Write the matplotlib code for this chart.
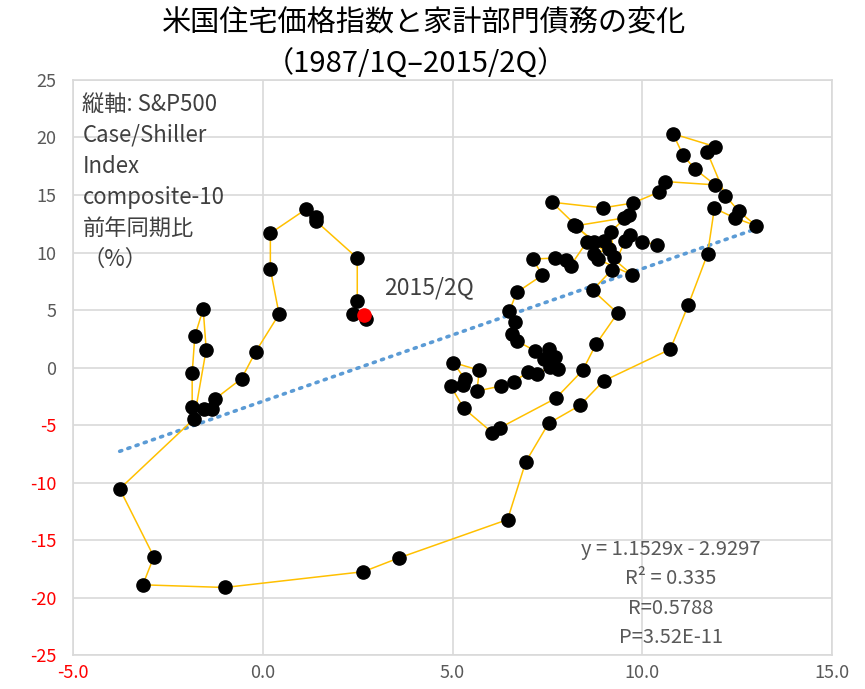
import matplotlib.pyplot as plt
import numpy as np

plt.rcParams['font.family'] = ['Noto Sans CJK JP', 'DejaVu Sans']

# x: 家計部門債務 前年同期比(%), y: Case/Shiller composite-10 前年同期比(%)
# 1987/1Q から 2015/2Q まで時系列順
debt = [10.40, 9.99, 9.68, 9.55, 9.20, 8.69, 9.35, 8.78, 8.43, 7.72, 6.25, 6.05,
        5.30, 4.95, 5.28, 5.33, 5.02, 5.71, 5.64, 6.28, 6.61, 7.00, 7.22, 7.58,
        7.79, 7.70, 7.53, 7.40, 7.18, 6.69, 6.56, 6.65, 6.50, 6.69, 7.37, 7.11,
        7.70, 7.99, 8.11,
        8.54, 8.74, 8.98, 9.11, 8.72, 8.82, 9.74, 8.20, 9.26, 9.17, 9.64, 9.51,
        8.26, 7.62, 8.96, 9.75, 10.43, 10.59, 11.92, 11.38, 11.07, 10.81, 11.92,
        11.71, 12.19, 12.54, 13.00, 12.44, 11.90, 11.72, 11.21, 10.74, 8.98,
        8.36, 7.53,
        6.93, 6.45, 3.58, 2.65, -1.00, -3.16, -2.87, -3.77, -1.81, -1.49, -1.57,
        -1.79, -1.86, -1.86, -1.56, -1.33, -1.27, -0.56, -0.19, 0.43, 0.20, 0.20,
        1.15, 1.39, 1.39, 2.49, 2.49, 2.38, 2.72, 2.67]
price = [10.68, 10.94, 11.52, 11.03, 8.50, 6.73, 4.73, 2.03, -0.24, -2.67, -5.23, -5.66,
         -3.55, -1.60, -1.54, -1.02, 0.44, -0.24, -2.04, -1.60, -1.25, -0.35, -0.58, 0.09,
         -0.09, 0.96, 1.60, 0.72, 1.45, 2.32, 2.90, 3.92, 4.93, 6.53, 8.04, 9.43,
         9.52, 9.35, 8.85,
         10.94, 10.94, 10.98, 10.30, 9.87, 9.43, 8.04, 12.40, 9.58, 11.81, 13.27, 13.00,
         12.33, 14.37, 13.88, 14.30, 15.24, 16.17, 15.88, 17.27, 18.49, 20.32, 19.20,
         18.73, 14.95, 13.59, 12.33, 13.00, 13.85, 9.87, 5.43, 1.60, -1.16,
         -3.28, -4.85,
         -8.19, -13.21, -16.55, -17.74, -19.11, -18.88, -16.44, -10.54, -4.45, 1.57, 5.08,
         2.75, -0.50, -3.43, -3.63, -3.57, -2.76, -0.96, 1.36, 4.64, 8.56, 11.67,
         13.79, 13.12, 12.77, 9.52, 5.75, 4.64, 4.21, 4.56]

# 近似直線 (Excel の線形近似)
slope, intercept = 1.1529, -2.9297
r2, r, p = 0.335, 0.5788, 3.52e-11

xticks = [-5, 0, 5, 10, 15]
yticks = [25, 20, 15, 10, 5, 0, -5, -10, -15, -20, -25]

fig = plt.figure(figsize=(8.65, 6.89), dpi=100)
ax = fig.add_axes([0.0844, 0.049, 0.8775, 0.835])

ax.plot(debt, price, color='#FFC000', lw=1.1, zorder=2)
ax.plot(debt[:-1], price[:-1], 'o', color='black', ms=9.5, zorder=3)
ax.plot(debt[-1], price[-1], 'o', color='red', ms=9.5, zorder=4)

tx = np.array([min(debt), max(debt)])
ax.plot(tx, slope * tx + intercept, color='#5B9BD5', lw=2.6,
        linestyle=(0, (0.6, 1.8)), dash_capstyle='round', zorder=1.5)

ax.set_xlim(-5, 15)
ax.set_ylim(-25, 25)
ax.set_xticks(xticks)
ax.set_yticks(yticks)
ax.set_xticklabels(['%.1f' % v for v in xticks])
ax.set_yticklabels([str(v) for v in yticks])
for lab, v in zip(ax.get_xticklabels(), xticks):
    lab.set_color('red' if v < 0 else '#595959')
for lab, v in zip(ax.get_yticklabels(), yticks):
    lab.set_color('red' if v < 0 else '#595959')
ax.tick_params(length=0, labelsize=13)
ax.tick_params(axis='y', pad=12)
ax.tick_params(axis='x', pad=6)
ax.grid(True, color='#D9D9D9', lw=1.2)
ax.set_axisbelow(True)
for s in ax.spines.values():
    s.set_color('#D9D9D9')
    s.set_linewidth(1.2)

fig.text(0.49, 0.966, '米国住宅価格指数と家計部門債務の変化', ha='center', va='center',
         fontsize=21, color='black')
fig.text(0.481, 0.906, '（1987/1Q–2015/2Q）', ha='center', va='center',
         fontsize=21, color='black')

ax.text(-4.75, 23.9, '縦軸: S&P500\nCase/Shiller\nIndex\ncomposite-10\n前年同期比\n（%）',
        ha='left', va='top', fontsize=16, color='#404040', linespacing=1.45)
ax.text(3.2, 6.9, '2015/2Q', ha='left', va='center', fontsize=16.5, color='#404040')

stats = 'y = %.4fx - %.4f\nR² = %.3f\nR=%.4f\nP=%.2E' % (slope, -intercept, r2, r, p)
ax.text(10.75, -14.9, stats, ha='center', va='top',
        fontsize=14.5, color='#595959', linespacing=1.52, multialignment='center')

fig.savefig('out.png', dpi=100)
